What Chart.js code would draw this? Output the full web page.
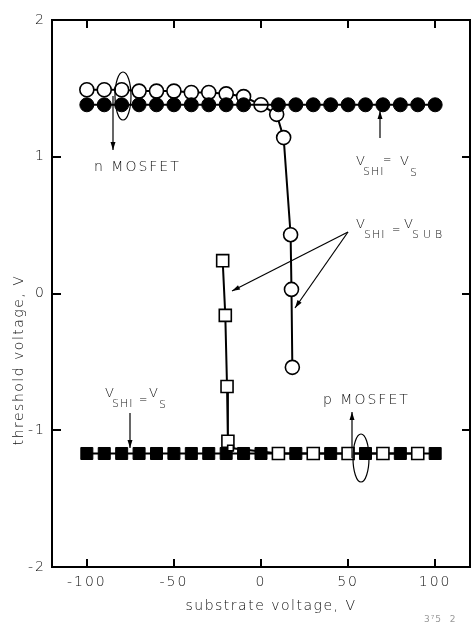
<!DOCTYPE html>
<html>
<head>
<meta charset="utf-8">
<script src="https://cdn.jsdelivr.net/npm/chart.js@4.4.0/dist/chart.umd.min.js"></script>
<style>
  html, body { margin: 0; padding: 0; background: #fff; }
</style>
</head>
<body>
<canvas id="chart" width="471" height="629"></canvas>
<script>
// axis ticks
const xTicks = [-100, -50, 0, 50, 100];
const yTicks = [-2, -1, 0, 1, 2];

// n MOSFET, V_SHI = V_S (filled circles)
const nVsX = [-100, -90, -80, -70, -60, -50, -40, -30, -20, -10, 10, 20, 30, 40, 50, 60, 70, 80, 90, 100];
const nVsY = [1.38, 1.38, 1.38, 1.38, 1.38, 1.38, 1.38, 1.38, 1.38, 1.38, 1.38, 1.38, 1.38, 1.38, 1.38, 1.38, 1.38, 1.38, 1.38, 1.38];

// n MOSFET, V_SHI = V_SUB (open circles)
const nVsubX = [-100, -90, -80, -70, -60, -50, -40, -30, -20, -10, 0, 9, 13, 17, 17.5, 18];
const nVsubY = [1.49, 1.49, 1.49, 1.48, 1.48, 1.48, 1.47, 1.47, 1.46, 1.44, 1.38, 1.31, 1.14, 0.43, 0.03, -0.54];

// p MOSFET, V_SHI = V_S (filled squares)
const pVsX = [-100, -90, -80, -70, -60, -50, -40, -30, -20, -10, 0, 20, 40, 60, 80, 100];
const pVsY = [-1.17, -1.17, -1.17, -1.17, -1.17, -1.17, -1.17, -1.17, -1.17, -1.17, -1.17, -1.17, -1.17, -1.17, -1.17, -1.17];

// p MOSFET, V_SHI = V_SUB (open squares)
const pVsubX = [-22, -20.5, -19.5, -19, -17.5, 10, 30, 50, 70, 90];
const pVsubY = [0.24, -0.16, -0.68, -1.08, -1.13, -1.17, -1.17, -1.17, -1.17, -1.17];
const pVsubSize = [8.5, 8.5, 8.5, 8.5, 4, 8.5, 8.5, 8.5, 8.5, 8.5];

const FONT = '"DejaVu Sans", sans-serif';
const INK = '#111';

function pts(xs, ys) {
    return xs.map((x, i) => ({ x: x, y: ys[i] }));
}

function arrow(ctx, x1, y1, x2, y2) {
    const a = Math.atan2(y2 - y1, x2 - x1);
    ctx.beginPath();
    ctx.moveTo(x1, y1);
    ctx.lineTo(x2, y2);
    ctx.stroke();
    ctx.beginPath();
    ctx.moveTo(x2, y2);
    ctx.lineTo(x2 - 8 * Math.cos(a) + 2.5 * Math.sin(a), y2 - 8 * Math.sin(a) - 2.5 * Math.cos(a));
    ctx.lineTo(x2 - 8 * Math.cos(a) - 2.5 * Math.sin(a), y2 - 8 * Math.sin(a) + 2.5 * Math.cos(a));
    ctx.closePath();
    ctx.fill();
}

// parts: [text, x, baseline, size, spacing]
function label(ctx, parts) {
    parts.forEach(([t, x, y, size, sp]) => {
        ctx.font = `200 ${size}px ${FONT}`;
        ctx.letterSpacing = (sp || 0) + 'px';
        ctx.fillText(t, x, y);
    });
}

const spacing = {
    id: 'spacing',
    beforeDraw(chart) {
        chart.ctx.letterSpacing = '2px';
    }
};

const frameTicks = {
    id: 'frameTicks',
    afterDatasetsDraw(chart) {
        const { ctx, chartArea: a, scales: { x, y } } = chart;
        ctx.save();
        ctx.strokeStyle = '#000';
        ctx.lineWidth = 2;
        ctx.beginPath();
        xTicks.forEach(v => {
            const px = Math.round(x.getPixelForValue(v));
            ctx.moveTo(px, a.bottom); ctx.lineTo(px, a.bottom - 8);
            ctx.moveTo(px, a.top); ctx.lineTo(px, a.top + 8);
        });
        yTicks.slice(1, -1).forEach(v => {
            const py = Math.round(y.getPixelForValue(v));
            ctx.moveTo(a.left, py); ctx.lineTo(a.left + 9, py);
            ctx.moveTo(a.right, py); ctx.lineTo(a.right - 8, py);
        });
        ctx.stroke();
        ctx.restore();
    }
};

const notes = {
    id: 'notes',
    afterDraw(chart) {
        const ctx = chart.ctx;
        ctx.save();
        ctx.fillStyle = INK;
        ctx.strokeStyle = '#000';
        ctx.lineWidth = 1.2;
        ctx.textAlign = 'left';
        ctx.textBaseline = 'alphabetic';

        // axis titles
        ctx.font = `200 14px ${FONT}`;
        ctx.letterSpacing = '1.5px';
        ctx.textAlign = 'center';
        ctx.fillText('substrate voltage, V', 271, 610);
        ctx.save();
        ctx.translate(23, 360);
        ctx.rotate(-Math.PI / 2);
        ctx.fillText('threshold voltage, V', 0, 0);
        ctx.restore();
        ctx.textAlign = 'left';

        // device labels
        label(ctx, [['n MOSFET', 94, 171, 14, 2], ['p MOSFET', 323, 404, 14, 2]]);

        // V_SHI = V_S (right)
        label(ctx, [['V', 356, 165, 13, 0], ['SHI', 363, 175, 11, 1], ['=', 383, 163, 10, 0],
                    ['V', 400, 165, 13, 0], ['S', 410, 176, 11, 0]]);
        // V_SHI = V_SUB
        label(ctx, [['V', 356, 228, 13, 0], ['SHI', 364, 238, 11, 1], ['=', 392, 233, 10, 0],
                    ['V', 404, 228, 13, 0], ['SUB', 412, 238, 11, 4]]);
        // V_SHI = V_S (left)
        label(ctx, [['V', 105, 397, 13, 0], ['SHI', 112, 407, 11, 1], ['=', 139, 403, 10, 0],
                    ['V', 149, 397, 13, 0], ['S', 159, 408, 11, 0]]);

        // arrows
        ctx.fillStyle = '#000';
        arrow(ctx, 113, 96, 113, 150);
        arrow(ctx, 380, 138, 380, 111);
        arrow(ctx, 348, 232, 232, 291);
        arrow(ctx, 348, 232, 295, 308);
        arrow(ctx, 130, 413, 130, 448);
        arrow(ctx, 352, 458, 352, 412);

        // ellipses marking each device pair
        ctx.beginPath();
        ctx.ellipse(123, 96, 8, 24, 0, 0, Math.PI * 2);
        ctx.stroke();
        ctx.beginPath();
        ctx.ellipse(361, 458, 8, 24, 0, 0, Math.PI * 2);
        ctx.stroke();

        // figure mark
        ctx.fillStyle = '#999';
        ctx.font = `9px ${FONT}`;
        ctx.letterSpacing = '1px';
        ctx.fillText('3⁷5  2', 424, 622);
        ctx.restore();
    }
};

const axisFont = { family: FONT, size: 14, weight: 200 };

new Chart(document.getElementById('chart'), {
    type: 'scatter',
    data: {
        datasets: [
            {
                label: 'n MOSFET, VSHI = VS',
                data: pts(nVsX, nVsY),
                showLine: true,
                borderColor: '#000',
                borderWidth: 2,
                pointStyle: 'circle',
                pointRadius: 7,
                pointBackgroundColor: '#000',
                pointBorderColor: '#000',
                pointBorderWidth: 1
            },
            {
                label: 'n MOSFET, VSHI = VSUB',
                data: pts(nVsubX, nVsubY),
                showLine: true,
                borderColor: '#000',
                borderWidth: 2,
                pointStyle: 'circle',
                pointRadius: 7,
                pointBackgroundColor: '#fff',
                pointBorderColor: '#000',
                pointBorderWidth: 1.6
            },
            {
                label: 'p MOSFET, VSHI = VSUB',
                data: pts(pVsubX, pVsubY),
                showLine: true,
                borderColor: '#000',
                borderWidth: 2,
                pointStyle: 'rect',
                pointRadius: pVsubSize,
                pointBackgroundColor: '#fff',
                pointBorderColor: '#000',
                pointBorderWidth: 1.6
            },
            {
                label: 'p MOSFET, VSHI = VS',
                data: pts(pVsX, pVsY),
                showLine: true,
                borderColor: '#000',
                borderWidth: 2,
                pointStyle: 'rect',
                pointRadius: 8.5,
                pointBackgroundColor: '#000',
                pointBorderColor: '#000',
                pointBorderWidth: 1
            }
        ]
    },
    options: {
        responsive: false,
        devicePixelRatio: 1,
        animation: false,
        layout: { autoPadding: false, padding: { top: 20, right: 1, left: 0, bottom: 0 } },
        plugins: { legend: { display: false }, tooltip: { enabled: false } },
        scales: {
            x: {
                type: 'linear', position: 'bottom', min: -120, max: 120,
                afterBuildTicks: s => { s.ticks = xTicks.map(v => ({ value: v })); },
                afterFit: s => { s.height = 62; },
                grid: { display: false, drawTicks: false },
                border: { display: true, color: '#000', width: 2 },
                ticks: { color: INK, font: axisFont, padding: 7, maxRotation: 0, autoSkip: false }
            },
            y: {
                type: 'linear', position: 'left', min: -2, max: 2,
                afterBuildTicks: s => { s.ticks = yTicks.map(v => ({ value: v })); },
                afterFit: s => { s.width = 52; },
                grid: { display: false, drawTicks: false },
                border: { display: true, color: '#000', width: 2 },
                ticks: { color: INK, font: axisFont, padding: 6 }
            },
            xTop: {
                type: 'linear', axis: 'x', position: 'top', min: -120, max: 120,
                afterFit: s => { s.height = 0; },
                grid: { display: false, drawTicks: false },
                border: { display: true, color: '#000', width: 2 },
                ticks: { display: false }
            },
            yRight: {
                type: 'linear', axis: 'y', position: 'right', min: -2, max: 2,
                afterFit: s => { s.width = 0; },
                grid: { display: false, drawTicks: false },
                border: { display: true, color: '#000', width: 2 },
                ticks: { display: false }
            }
        }
    },
    plugins: [spacing, frameTicks, notes]
});
</script>
</body>
</html>
